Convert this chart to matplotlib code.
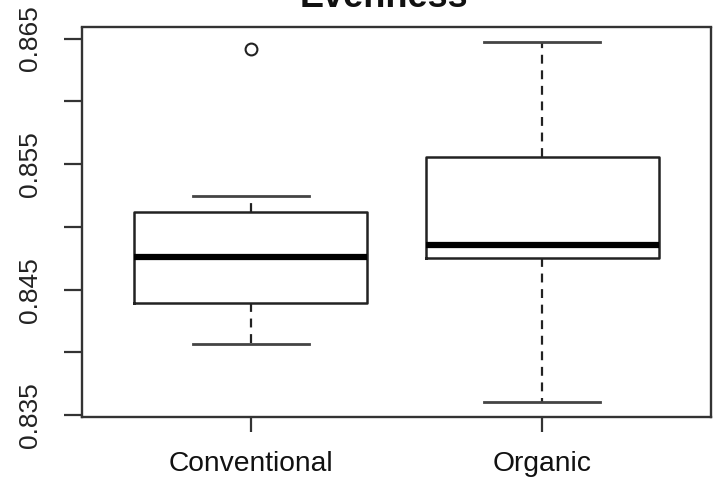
import matplotlib
matplotlib.use("Agg")
import matplotlib.pyplot as plt

# Group labels and box statistics (whiskers, quartiles, median, outliers)
groups = ["Conventional", "Organic"]
whisker_low = [0.84070, 0.83603]
quartile_1 = [0.84390, 0.84750]
medians = [0.84763, 0.84856]
quartile_3 = [0.85122, 0.85554]
whisker_high = [0.85248, 0.86473]
outliers = [[0.86415], []]

ytick_values = [0.835, 0.840, 0.845, 0.850, 0.855, 0.860, 0.865]
ytick_labels = ["0.835", "", "0.845", "", "0.855", "", "0.865"]

plt.rcParams["font.family"] = ["Liberation Sans", "DejaVu Sans"]

fig = plt.figure(figsize=(7.21, 4.86), dpi=100)
ax = fig.add_axes([82 / 721, 1 - 416.7 / 486, (711 - 82) / 721, (416.7 - 27.5) / 486])

stats = []
for i, name in enumerate(groups):
    stats.append(dict(label=name, whislo=whisker_low[i], q1=quartile_1[i], med=medians[i],
                      q3=quartile_3[i], whishi=whisker_high[i], fliers=outliers[i]))

line_col = "#222222"
ax.bxp(stats, positions=[1, 2], widths=0.8, capwidths=0.4, showfliers=True,
       boxprops=dict(color=line_col, linewidth=1.8),
       whiskerprops=dict(color=line_col, linewidth=1.6, linestyle=(0, (4, 3))),
       capprops=dict(color="#444444", linewidth=2.0),
       medianprops=dict(color="black", linewidth=4.5, solid_capstyle="butt"),
       flierprops=dict(marker="o", markersize=8.5, markerfacecolor="none",
                       markeredgecolor=line_col, markeredgewidth=1.5))

# R-style axis limits: data range widened by 4% on each side
lo = min(whisker_low + [v for o in outliers for v in o])
hi = max(whisker_high + [v for o in outliers for v in o])
pad = 0.04 * (hi - lo)
ax.set_ylim(lo - pad, hi + pad)
ax.set_xlim(0.42, 2.58)

ax.set_yticks(ytick_values)
ax.set_yticklabels(ytick_labels, rotation=90, va="center", fontsize=19, color="#222222")
ax.set_xticks([1, 2])
ax.set_xticklabels(groups, fontsize=20.3, color="#111111")
ax.tick_params(axis="y", length=13, width=1.6, color="#333333", pad=16)
ax.tick_params(axis="x", length=11, width=1.6, color="#333333", pad=14)

for sp in ax.spines.values():
    sp.set_linewidth(1.7)
    sp.set_color("#333333")

fig.text(0.533, 1 - 7 / 486, "Evenness", ha="center", va="baseline",
         fontsize=26, fontweight="bold", color="#111111")

fig.savefig("out.png", dpi=100)
